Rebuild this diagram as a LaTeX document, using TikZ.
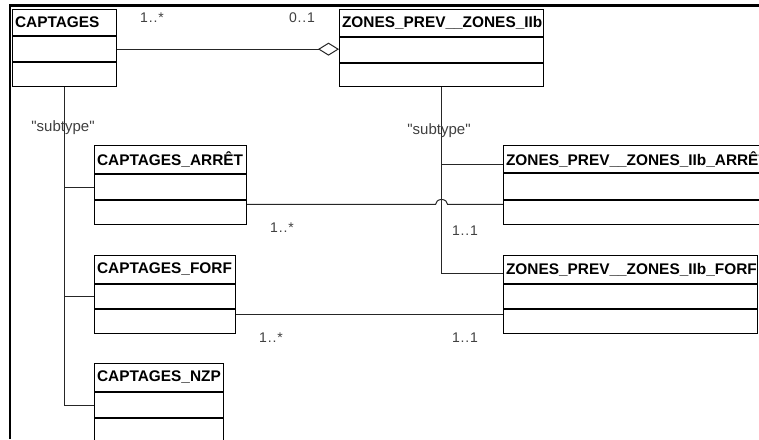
\documentclass[tikz,border=0pt]{standalone}
\usepackage{fontspec}
\setmainfont{Liberation Sans}
\newfontfamily\lblfont[LetterSpace=6]{Liberation Sans}
\usetikzlibrary{arrows.meta,calc}
\newcommand{\umlcls}[8]{% name, x, y, w, h1, h2, h3, title
  \node[hdr, minimum width=#4pt, minimum height=#5pt] (#1) at (#2,#3) {\makebox[\dimexpr#4pt-5pt\relax][l]{#8}};
  \node[cmp, minimum width=#4pt, minimum height=#6pt] (#1-a) at (#1.south) {};
  \node[cmp, minimum width=#4pt, minimum height=#7pt] (#1-o) at (#1-a.south) {};
}
\begin{document}
\begin{tikzpicture}[x=1pt,y=-1pt,
  hdr/.style={draw=black, line width=1.1pt, inner xsep=2.5pt, inner ysep=0pt,
    font=\fontsize{15.4}{16}\selectfont\bfseries, anchor=north west},
  cmp/.style={draw=black, line width=1.1pt, inner sep=0pt, anchor=north},
  conn/.style={draw=black!85, line width=1pt},
  lbl/.style={font=\lblfont\fontsize{14}{15}\selectfont, text=black!75, inner sep=0pt},
  stl/.style={font=\fontsize{15}{16}\selectfont, text=black!75, inner sep=0pt}]
\useasboundingbox[fill=white] (0,0) rectangle (759,439);
\clip (0,0) rectangle (759,439);
% classes
\umlcls{C}{12}{9}{104}{26}{25}{24}{CAPTAGES}
\umlcls{Z}{339}{9}{204}{27}{25}{23}{ZONES\_PREV\_\_ZONES\_IIb}
\umlcls{CA}{94}{145}{152}{28}{25}{24}{CAPTAGES\_ARRÊT}
\umlcls{ZA}{503}{145}{300}{27}{26}{24}{ZONES\_PREV\_\_ZONES\_IIb\_ARRÊT}
\umlcls{CF}{94}{255}{141}{28}{24}{24}{CAPTAGES\_FORF}
\umlcls{ZF}{503}{255}{254}{28}{24}{24}{ZONES\_PREV\_\_ZONES\_IIb\_FORF}
\umlcls{CN}{94}{363}{129}{28}{25}{26}{CAPTAGES\_NZP}
% aggregation
\draw[conn, -{Diamond[open, length=21pt, width=13pt, line width=1pt]}] (C-a.east) -- (C-a.east -| Z-a.west);
% generalisation trees
\draw[conn] (C-o.south) |- (CA-a.west);
\draw[conn] (C-o.south) |- (CF-a.west);
\draw[conn] (C-o.south) |- (CN-a.west);
\coordinate (zaj) at ($(ZA.north west)!0.7!(ZA.south west)$);
\coordinate (zfj) at ($(ZF.north west)!0.65!(ZF.south west)$);
\draw[conn] (Z-o.south) |- (zaj);
\draw[conn] (Z-o.south) |- (zfj);
% associations
\coordinate (a1) at ($(CA-o.north east)!0.17!(CA-o.south east)$);
\coordinate (a2) at (a1 -| ZA-o.west);
\coordinate (hop) at (a1 -| Z-o.south);
\draw[conn] (a1) -- ([xshift=-6pt]hop) arc[start angle=180, end angle=0, x radius=6pt, y radius=5pt] -- (a2);
\coordinate (f1) at ($(CF-o.north east)!0.2!(CF-o.south east)$);
\draw[conn] (f1) -- (f1 -| ZF-o.west);
% labels
\node[lbl] (m1) at (152,18) {1..*};
\node[lbl] (m2) at (302,18) {0..1};
\node[lbl] (m3) at (282,228) {1..*};
\node[lbl] (m4) at (465,231) {1..1};
\node[lbl] (m5) at (271,338) {1..*};
\node[lbl] (m6) at (465,338) {1..1};
\node[stl] (s1) at (63,128) {\textquotedbl subtype\textquotedbl};
\node[stl] (s2) at (439,131) {\textquotedbl subtype\textquotedbl};
% frame
\draw[line width=2.5pt] (10,439) -- (10,5.5) -- (759,5.5);
\end{tikzpicture}
\end{document}
